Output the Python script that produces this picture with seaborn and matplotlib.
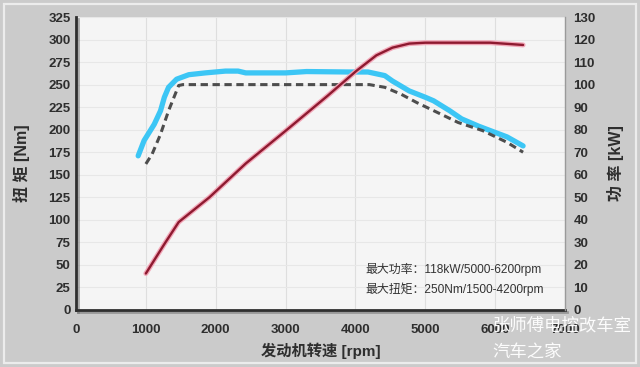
import matplotlib
matplotlib.use("Agg")
import matplotlib.pyplot as plt
import matplotlib.patheffects as pe
from matplotlib.patches import Rectangle
import seaborn as sns
import pandas as pd

# ---------------- data ----------------
rpm_torque = [890, 975, 1120, 1210, 1265, 1325, 1440, 1615, 1850, 2140, 2320, 2430,
              3000, 3300, 3900, 4180, 4420, 4530, 4770, 5000, 5120, 5350, 5520,
              5760, 5930, 6170, 6400]
torque_measured = [171, 188, 206, 221, 236, 247, 256, 261, 263, 265, 265, 263,
                   263, 264.5, 264, 264, 260, 254, 243, 236, 232, 221, 212,
                   204, 199, 192, 182]

rpm_rated = [1000, 1090, 1210, 1325, 1470, 1530, 4200, 4420, 4650, 4880, 5230,
             5470, 5820, 6170, 6400]
torque_rated = [162, 173, 195, 221, 249, 250, 250, 247, 239.5, 230, 217,
                208, 199, 186, 175]

rpm_power = [1000, 1270, 1470, 1670, 1910, 2430, 3020, 3600, 4010, 4300, 4530,
             4770, 5000, 5930, 6400]
power_kw = [16.2, 29.5, 39, 44, 50, 65, 80, 95, 106, 113, 116.4,
            118.2, 118.6, 118.6, 117.6]

x_ticks = [0, 1000, 2000, 3000, 4000, 5000, 6000, 7000]
torque_ticks = list(range(0, 326, 25))
power_ticks = list(range(0, 131, 10))

xlabel = "发动机转速 [rpm]"
ylabel_left = "扭 矩 [Nm]"
ylabel_right = "功 率 [kW]"
note_lines = ["最大功率：118kW/5000-6200rpm", "最大扭矩：250Nm/1500-4200rpm"]
watermark = ["张师傅电控改车室", "汽车之家"]

df_meas = pd.DataFrame({"rpm": rpm_torque, "torque": torque_measured})
df_rated = pd.DataFrame({"rpm": rpm_rated, "torque": torque_rated})
df_power = pd.DataFrame({"rpm": rpm_power, "power": power_kw})

# ---------------- style ----------------
sns.set_style("white")
plt.rcParams["font.family"] = ["Liberation Sans", "Noto Sans CJK SC", "DejaVu Sans"]

fig = plt.figure(figsize=(6.4, 3.67), dpi=100, facecolor="#cbcbcb")
ax = fig.add_axes([76 / 640, 57 / 367, 489 / 640, 293 / 367])
ax.set_facecolor("#f5f5f5")

# outer light border
fig.patches.append(Rectangle((0.006, 0.012), 0.988, 0.978, transform=fig.transFigure,
                             fill=False, edgecolor="#ececec", linewidth=1.6, zorder=0))

ax.set_xlim(0, 7000)
ax.set_ylim(0, 325)
ax.set_xticks(x_ticks)
ax.set_yticks(torque_ticks)
ax.grid(True, axis="x", color="#dedede", linewidth=0.8)
ax.grid(True, axis="y", color="#e7e7e7", linewidth=0.8)
ax.set_axisbelow(True)

# torque curves
sns.lineplot(data=df_meas, x="rpm", y="torque", ax=ax, color="#3cc6f5",
             linewidth=3.8, solid_capstyle="round", zorder=3)
sns.lineplot(data=df_rated, x="rpm", y="torque", ax=ax, color="#4d4d4d",
             linewidth=2.2, zorder=4)
ax.lines[-1].set_dashes([2.4, 1.5])

# power curve on twin axis
ax2 = ax.twinx()
ax2.set_ylim(0, 130)
ax2.set_yticks(power_ticks)
sns.lineplot(data=df_power, x="rpm", y="power", ax=ax2, color="#8e1a30",
             linewidth=1.7, zorder=5,
             path_effects=[pe.Stroke(linewidth=3.6, foreground="#f2a7b8"), pe.Normal()])
ax2.set_xlim(0, 7000)

# spines
for a in (ax, ax2):
    for s in a.spines.values():
        s.set_visible(False)
for name in ("left", "bottom"):
    sp = ax.spines[name]
    sp.set_visible(True)
    sp.set_color("#2f2f2f")
    sp.set_linewidth(2.0)
    sp.set_path_effects([pe.SimpleLineShadow(offset=(1.2, -1.2), shadow_color="#777777", alpha=0.6),
                         pe.Normal()])
ax2.spines["right"].set_visible(True)
ax2.spines["right"].set_color("#9a9a9a")
ax2.spines["right"].set_linewidth(1.0)

tick_kw = dict(labelsize=9.5, labelcolor="#2e2e2e", length=0)
ax.tick_params(axis="y", pad=4, **tick_kw)
ax.tick_params(axis="x", pad=10, **tick_kw)
ax2.tick_params(axis="y", pad=6, **tick_kw)
for lab in ax.get_xticklabels() + ax.get_yticklabels() + ax2.get_yticklabels():
    lab.set_fontweight("bold")

ax.set_xlabel(xlabel, fontsize=11, fontweight="bold", color="#2e2e2e")
ax.xaxis.set_label_coords(0.5, -0.11)
ax.set_ylabel(ylabel_left, fontsize=11.5, fontweight="bold", color="#2e2e2e")
ax.yaxis.set_label_coords(-0.095, 0.5)
ax2.set_ylabel(ylabel_right, fontsize=11.5, fontweight="bold", color="#2e2e2e", rotation=90)
ax2.yaxis.set_label_coords(1.085, 0.5)

# annotation
ax.text(0.591, 0.14, note_lines[0], transform=ax.transAxes, fontsize=8.6,
        color="#333333", va="center", ha="left", zorder=6)
ax.text(0.591, 0.072, note_lines[1], transform=ax.transAxes, fontsize=8.6,
        color="#333333", va="center", ha="left", zorder=6)

# watermark
fig.text(492 / 640, 1 - 325 / 367, watermark[0], fontsize=12.5, color="white",
         family=["Noto Sans CJK SC"], va="center", ha="left", alpha=0.95)
fig.text(492 / 640, 1 - 352 / 367, watermark[1], fontsize=12.5, color="white",
         family=["Noto Sans CJK SC"], va="center", ha="left", alpha=0.95)

fig.savefig("out.png", dpi=100, facecolor=fig.get_facecolor())
